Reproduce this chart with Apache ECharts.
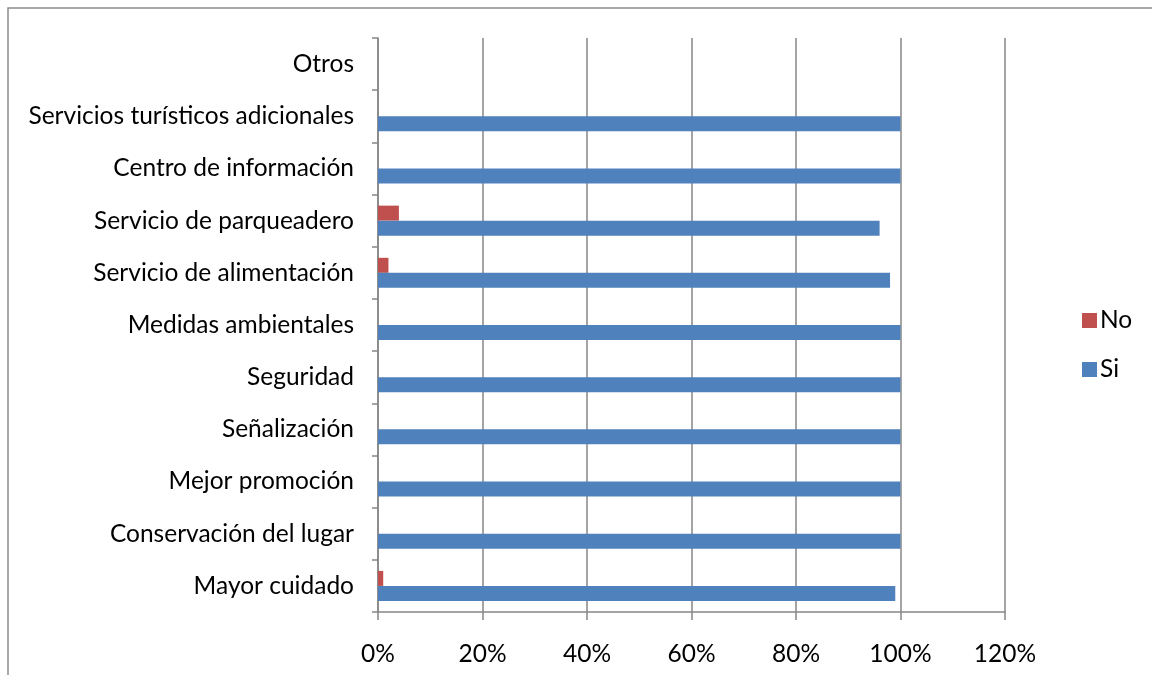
<!DOCTYPE html>
<html>
<head>
<meta charset="utf-8">
<script src="https://cdn.jsdelivr.net/npm/echarts@6/dist/echarts.min.js"></script>
<style>html,body{margin:0;padding:0;background:#fff}#c{width:1152px;height:675px}</style>
</head>
<body>
<div id="c"></div>
<script>
const categories = ["Mayor cuidado","Conservación del lugar","Mejor promoción","Señalización","Seguridad","Medidas ambientales","Servicio de alimentación","Servicio de parqueadero","Centro de información","Servicios turísticos adicionales","Otros"];
const siValues = [99,100,100,100,100,100,98,96,100,100,0];
const noValues = [1,0,0,0,0,0,2,4,0,0,0];
const seriesNames = ["No","Si"];
const legendOrder = ["No","Si"];

const FONT = 'Lato';
const FS = 24.5;
const chart = echarts.init(document.getElementById('c'), null, {renderer:'canvas'});
chart.setOption({
  animation:false,
  backgroundColor:'#fff',
  graphic:[{type:'rect',shape:{x:8,y:8,width:1300,height:800},style:{fill:'none',stroke:'#8c8c8c',lineWidth:1.5},silent:true}],
  grid:{left:378,right:147,top:38,bottom:63,containLabel:false},
  legend:{
    orient:'vertical',left:1077,top:303,itemWidth:15,itemHeight:15,itemGap:24,
    data:legendOrder,icon:'rect',
    textStyle:{fontFamily:FONT,fontSize:FS,color:'#000',padding:[0,0,0,-2]}
  },
  xAxis:{
    type:'value',min:0,max:120,interval:20,
    axisLine:{show:true,lineStyle:{color:'#868686',width:1.5}},
    axisTick:{show:true,length:8,lineStyle:{color:'#868686',width:1.5}},
    splitLine:{show:true,lineStyle:{color:'#868686',width:1.5}},
    axisLabel:{formatter:'{value}%',fontFamily:FONT,fontSize:FS,color:'#000',margin:30}
  },
  yAxis:{
    type:'category',data:categories,
    axisLine:{show:true,lineStyle:{color:'#868686',width:1.5}},
    axisTick:{show:true,length:6,lineStyle:{color:'#868686',width:1.5}},
    axisLabel:{fontFamily:FONT,fontSize:FS,color:'#000',margin:24}
  },
  series:[
    {name:seriesNames[0],type:'bar',data:noValues,barWidth:15,barGap:'0%',itemStyle:{color:'#C0504D'}},
    {name:seriesNames[1],type:'bar',data:siValues,barWidth:15,barGap:'0%',itemStyle:{color:'#4F81BD'}}
  ]
});
</script>
</body>
</html>
